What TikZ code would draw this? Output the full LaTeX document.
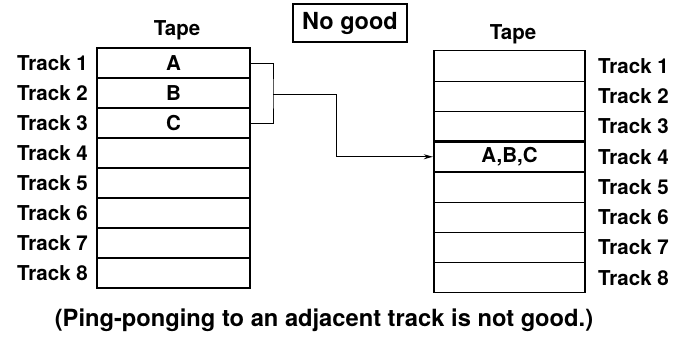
\documentclass[tikz,border=0pt]{standalone}
\usepackage{fontspec}
\setmainfont{TeX Gyre Heros}
\usetikzlibrary{arrows.meta}
\tikzset{
  cell/.style={draw, line width=1.1pt, minimum height=30pt, inner sep=0pt},
  hot/.style={line width=2.4pt},
  tlabel/.style={inner sep=0pt},
}
\begin{document}
\begin{tikzpicture}[x=1pt, y=-1pt, font=\fontsize{20.5}{24}\selectfont\bfseries]
\useasboundingbox (0,0) rectangle (689,343);
% left tape
\node[tlabel] (tapeL) at (177,30) {Tape};
\foreach \i in {4,...,8}
  \node[cell, minimum width=153pt] (L\i) at (173.5,{63+30*(\i-1)}) {};
\node[cell, hot, minimum width=153pt] (L1) at (173.5,63) {A};
\node[cell, hot, minimum width=153pt] (L2) at (173.5,93) {B};
\node[cell, hot, minimum width=153pt] (L3) at (173.5,123) {C};
\foreach \i in {1,...,8}
  \node[tlabel, anchor=east] (tl\i) at (88,{63+30*(\i-1)}) {Track \i};
% right tape
\node[tlabel] (tapeR) at (513,34) {Tape};
\foreach \i in {1,2,3,5,6,7,8}
  \node[cell, minimum width=151pt, minimum height=30.25pt] (R\i) at (509.5,{66+30.25*(\i-1)}) {};
\node[cell, hot, minimum width=151pt, minimum height=30.25pt] (R4) at (509.5,156.75) {A,B,C};
\foreach \i in {1,...,8}
  \node[tlabel, anchor=west] (tr\i) at (598,{66+30.25*(\i-1)}) {Track \i};
% heading and note
\node[draw, line width=1.2pt, minimum width=114pt, minimum height=38pt, inner sep=0pt,
      font=\fontsize{23.5}{26}\selectfont\bfseries] (nogood) at (350,23) {No good};
\node[tlabel, font=\fontsize{23.7}{28}\selectfont\bfseries] (note) at (324,320)
  {(Ping-ponging to an adjacent track is not good.)};
% bracket and arrow
\coordinate (join) at (273,94);
\draw[line width=1pt] (L1.east) -| (join) |- (L3.east);
\draw[line width=1pt, -{Stealth[length=9pt, width=5pt]}] (join) -- (336,94) |- (R4.west);
\end{tikzpicture}
\end{document}
